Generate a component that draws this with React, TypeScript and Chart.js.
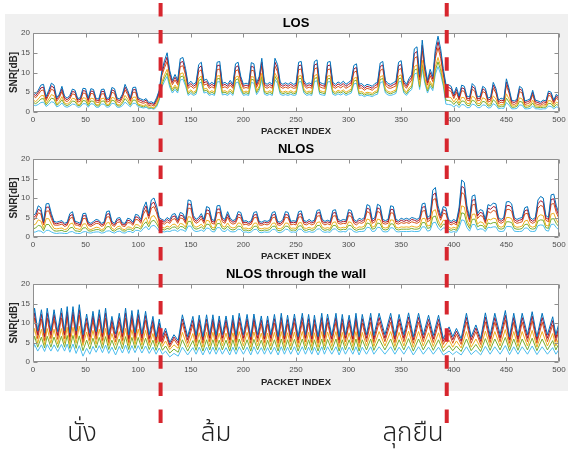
import React, { useEffect, useRef } from "react";
import { Chart, registerables } from "chart.js";
Chart.register(...registerables);

// ---------- axis / labels ----------
const xTickValues = [0, 50, 100, 150, 200, 250, 300, 350, 400, 450, 500];
const yTickValues = [0, 5, 10, 15, 20];
const titles = ["LOS", "NLOS", "NLOS through the wall"];
const xLabel = "PACKET INDEX";
const yLabel = "SNR[dB]";
const phaseLabels = ["นั่ง", "ล้ม", "ลุกยืน"];
const phaseBoundaries = [121, 393];
// series order: top ... bottom (first drawn on top)
const lineColors = ["#0072BD", "#A2142F", "#D95319", "#EDB120", "#77AC30", "#4DBEEE"];

// sample positions (packet index) for LOS / NLOS: every 2.5 packets, 0..500
const SAMPLE_STEP = 2.5;

// ---------- LOS ----------
const losA = [
  5.2,4.6,5.5,6.8,7.0,3.9,5.5,7.3,6.8,3.6, 4.5,6.5,4.0,3.5,4.2,5.8,5.5,3.4,3.6,6.0,
  5.9,3.5,5.9,5.7,3.4,3.3,5.7,5.8,3.4,3.6, 6.2,5.9,3.5,3.3,4.5,7.0,5.5,3.6,6.2,6.3,
  3.6,3.3,3.0,3.4,2.4,2.6,2.2,3.6,5.5,10.5, 13.0,15.0,10.5,8.0,9.5,8.0,13.5,13.8,11.0,7.0,
  7.8,7.0,7.5,12.0,12.6,8.0,8.3,7.0,7.5,7.0, 12.6,12.8,7.2,7.5,7.0,8.0,7.0,12.2,12.6,9.0,
  7.0,7.3,7.0,12.5,12.2,7.3,9.0,13.6,7.5,7.0, 7.5,7.0,13.6,12.0,7.5,7.0,7.4,7.0,7.5,7.0,
  7.2,12.6,12.8,8.0,7.0,7.4,7.0,12.8,13.2,7.5, 7.2,7.0,12.6,12.8,7.5,7.0,7.6,7.2,7.8,7.0,
  7.5,8.0,11.8,12.2,7.0,7.2,6.5,7.0,6.8,6.5, 7.2,7.5,12.4,12.8,8.0,7.2,7.0,7.4,7.8,12.6,
  13.0,8.0,7.0,8.5,9.5,16.0,16.5,9.5,18.2,12.0, 8.0,10.8,9.0,16.0,19.2,16.0,11.0,7.0,6.9,6.5,
  4.5,6.3,4.0,6.8,6.5,4.0,3.8,7.2,6.5,3.8, 4.0,6.5,6.0,3.5,3.8,7.5,6.0,3.0,3.5,3.2,
  8.4,6.0,3.0,2.8,3.2,6.5,6.0,2.8,3.0,3.3, 5.5,3.0,2.8,2.5,3.0,2.8,5.3,5.0,3.0,4.5,
  3.8,
];
const losE = [
  4.7,4.1,5.0,6.1,6.3,3.4,5.0,6.6,6.1,3.2, 4.1,5.9,3.5,3.1,3.8,5.2,5.0,3.0,3.2,5.4,
  5.3,3.1,5.3,5.2,3.0,2.9,5.2,5.2,3.0,3.2, 5.6,5.3,3.1,2.9,4.1,6.3,5.0,3.2,5.6,5.7,
  3.2,2.9,2.6,3.0,2.0,2.2,1.9,3.2,5.1,9.9, 12.1,13.9,9.8,7.5,8.8,7.5,12.5,12.8,10.2,6.5,
  7.2,6.5,7.0,11.1,11.7,7.4,7.7,6.5,7.0,6.5, 11.7,11.9,6.7,7.0,6.5,7.4,6.5,11.3,11.7,8.4,
  6.5,6.8,6.5,11.6,11.3,6.8,8.4,12.6,7.0,6.5, 7.0,6.5,12.6,11.1,7.0,6.5,6.9,6.5,7.0,6.5,
  6.7,11.7,11.9,7.4,6.5,6.9,6.5,11.9,12.2,7.0, 6.7,6.5,11.7,11.9,7.0,6.5,7.1,6.7,7.2,6.5,
  7.0,7.4,10.9,11.3,6.5,6.7,6.0,6.5,6.3,6.0, 6.7,7.0,11.5,11.9,7.4,6.7,6.5,6.9,7.2,11.7,
  12.0,7.4,6.5,7.9,8.8,14.8,15.3,8.8,16.9,11.1, 7.4,10.0,8.4,14.8,17.8,14.8,10.2,6.3,6.2,5.9,
  4.0,5.7,3.5,6.1,5.9,3.5,3.3,6.5,5.9,3.3, 3.5,5.9,5.4,3.0,3.3,6.8,5.4,2.6,3.0,2.8,
  7.6,5.4,2.6,2.4,2.8,5.9,5.4,2.4,2.6,2.9, 5.0,2.6,2.4,2.1,2.6,2.4,4.8,4.5,2.6,4.1,
  3.3,
];
const losB = [
  4.2,3.6,4.4,5.4,5.6,2.9,4.4,5.8,5.4,2.7, 3.6,5.2,3.0,2.6,3.3,4.6,4.4,2.5,2.7,4.8,
  4.7,2.6,4.7,4.6,2.5,2.4,4.6,4.6,2.5,2.7, 5.0,4.7,2.6,2.4,3.6,5.6,4.4,2.7,5.0,5.0,
  2.7,2.4,2.2,2.5,1.6,1.8,1.5,2.7,4.7,9.2, 11.2,12.8,9.0,6.9,8.1,6.9,11.5,11.7,9.4,6.0,
  6.6,6.0,6.4,10.2,10.7,6.8,7.1,6.0,6.4,6.0, 10.7,10.9,6.1,6.4,6.0,6.8,6.0,10.4,10.7,7.7,
  6.0,6.2,6.0,10.6,10.4,6.2,7.7,11.6,6.4,6.0, 6.4,6.0,11.6,10.2,6.4,6.0,6.3,6.0,6.4,6.0,
  6.1,10.7,10.9,6.8,6.0,6.3,6.0,10.9,11.2,6.4, 6.1,6.0,10.7,10.9,6.4,6.0,6.5,6.1,6.6,6.0,
  6.4,6.8,10.0,10.4,6.0,6.1,5.5,6.0,5.8,5.5, 6.1,6.4,10.5,10.9,6.8,6.1,6.0,6.3,6.6,10.7,
  11.0,6.8,6.0,7.2,8.1,13.6,14.0,8.1,15.5,10.2, 6.8,9.2,7.7,13.6,16.3,13.6,9.4,5.6,5.5,5.2,
  3.4,5.0,3.0,5.4,5.2,3.0,2.8,5.8,5.2,2.8, 3.0,5.2,4.8,2.5,2.8,6.0,4.8,2.1,2.5,2.3,
  6.7,4.8,2.1,1.9,2.3,5.2,4.8,1.9,2.1,2.4, 4.4,2.1,1.9,1.7,2.1,1.9,4.2,4.0,2.1,3.6,
  2.8,
];
const losC = [
  3.1,2.6,3.3,4.1,4.2,2.2,3.3,4.4,4.1,2.0, 2.7,3.9,2.3,2.0,2.5,3.5,3.3,1.9,2.0,3.6,
  3.5,2.0,3.5,3.4,1.9,1.8,3.4,3.5,1.9,2.0, 3.7,3.5,1.9,1.8,2.7,4.2,3.3,2.0,3.7,3.8,
  2.0,1.8,1.6,1.9,1.2,1.3,1.0,2.0,3.8,7.6, 9.4,10.8,7.6,5.8,6.8,5.8,9.7,9.9,7.9,5.0,
  5.6,5.0,5.4,8.6,9.1,5.8,6.0,5.0,5.4,5.0, 9.1,9.2,5.2,5.4,5.0,5.8,5.0,8.8,9.1,6.5,
  5.0,5.3,5.0,9.0,8.8,5.3,6.5,9.8,5.4,5.0, 5.4,5.0,9.8,8.6,5.4,5.0,5.3,5.0,5.4,5.0,
  5.2,9.1,9.2,5.8,5.0,5.3,5.0,9.2,9.5,5.4, 5.2,5.0,9.1,9.2,5.4,5.0,5.5,5.2,5.6,5.0,
  5.4,5.8,8.5,8.8,5.0,5.2,4.7,5.0,4.9,4.7, 5.2,5.4,8.9,9.2,5.8,5.2,5.0,5.3,5.6,9.1,
  9.4,5.8,5.0,6.1,6.8,11.5,11.9,6.8,13.1,8.6, 5.8,7.8,6.5,11.5,13.8,11.5,7.9,3.9,3.8,3.6,
  2.5,3.5,2.2,3.7,3.6,2.2,2.1,4.0,3.6,2.1, 2.2,3.6,3.3,1.9,2.1,4.1,3.3,1.6,1.9,1.8,
  4.6,3.3,1.6,1.5,1.8,3.6,3.3,1.5,1.6,1.8, 3.0,1.6,1.5,1.4,1.6,1.5,2.9,2.8,1.6,2.5,
  2.1,
];
const losF = [
  2.5,2.1,2.6,3.3,3.4,1.8,2.6,3.5,3.3,1.7, 2.2,3.1,1.9,1.6,2.0,2.8,2.6,1.6,1.7,2.9,
  2.8,1.6,2.8,2.7,1.6,1.5,2.7,2.8,1.6,1.7, 3.0,2.8,1.6,1.5,2.2,3.4,2.6,1.7,3.0,3.0,
  1.7,1.5,1.3,1.6,1.0,1.1,0.9,1.7,3.4,7.0, 8.6,9.9,7.0,5.3,6.3,5.3,8.9,9.1,7.3,4.6,
  5.2,4.6,5.0,7.9,8.4,5.3,5.5,4.6,5.0,4.6, 8.4,8.5,4.8,5.0,4.6,5.3,4.6,8.1,8.4,6.0,
  4.6,4.9,4.6,8.3,8.1,4.9,6.0,9.0,5.0,4.6, 5.0,4.6,9.0,7.9,5.0,4.6,4.9,4.6,5.0,4.6,
  4.8,8.4,8.5,5.3,4.6,4.9,4.6,8.5,8.7,5.0, 4.8,4.6,8.4,8.5,5.0,4.6,5.1,4.8,5.2,4.6,
  5.0,5.3,7.8,8.1,4.6,4.8,4.3,4.6,4.5,4.3, 4.8,5.0,8.2,8.5,5.3,4.8,4.6,4.9,5.2,8.4,
  8.6,5.3,4.6,5.6,6.3,10.6,10.9,6.3,12.0,7.9, 5.3,7.2,6.0,10.6,12.7,10.6,7.3,3.0,2.9,2.7,
  1.9,2.7,1.7,2.8,2.7,1.7,1.6,3.0,2.7,1.6, 1.7,2.7,2.5,1.5,1.6,3.1,2.5,1.2,1.5,1.4,
  3.5,2.5,1.2,1.2,1.4,2.7,2.5,1.2,1.2,1.4, 2.3,1.2,1.2,1.1,1.2,1.2,2.2,2.1,1.2,1.9,
  1.6,
];
const losD = [
  1.8,1.6,1.9,2.4,2.5,1.4,1.9,2.6,2.4,1.3, 1.6,2.3,1.4,1.2,1.5,2.0,1.9,1.2,1.3,2.1,
  2.1,1.2,2.1,2.0,1.2,1.2,2.0,2.0,1.2,1.3, 2.2,2.1,1.2,1.2,1.6,2.5,1.9,1.3,2.2,2.2,
  1.3,1.2,1.0,1.2,0.8,0.9,0.7,1.3,3.0,6.3, 7.8,9.0,6.3,4.8,5.7,4.8,8.1,8.3,6.6,4.2,
  4.7,4.2,4.5,7.2,7.6,4.8,5.0,4.2,4.5,4.2, 7.6,7.7,4.3,4.5,4.2,4.8,4.2,7.3,7.6,5.4,
  4.2,4.4,4.2,7.5,7.3,4.4,5.4,8.2,4.5,4.2, 4.5,4.2,8.2,7.2,4.5,4.2,4.4,4.2,4.5,4.2,
  4.3,7.6,7.7,4.8,4.2,4.4,4.2,7.7,7.9,4.5, 4.3,4.2,7.6,7.7,4.5,4.2,4.6,4.3,4.7,4.2,
  4.5,4.8,7.1,7.3,4.2,4.3,3.9,4.2,4.1,3.9, 4.3,4.5,7.4,7.7,4.8,4.3,4.2,4.4,4.7,7.6,
  7.8,4.8,4.2,5.1,5.7,9.6,9.9,5.7,10.9,7.2, 4.8,6.5,5.4,9.6,11.5,9.6,6.6,2.0,1.9,1.8,
  1.3,1.8,1.1,1.9,1.8,1.1,1.1,2.0,1.8,1.1, 1.1,1.8,1.7,1.0,1.1,2.1,1.7,0.8,1.0,0.9,
  2.4,1.7,0.8,0.8,0.9,1.8,1.7,0.8,0.8,0.9, 1.5,0.8,0.8,0.7,0.8,0.8,1.5,1.4,0.8,1.3,
  1.1,
];

// ---------- NLOS ----------
const nlosA = [
  5.5,6.0,8.0,7.5,4.0,8.5,8.6,6.0,4.0,3.8, 4.0,4.2,3.5,3.8,6.0,6.5,4.0,3.8,3.5,6.0,
  6.1,3.8,3.5,4.0,4.5,4.3,3.5,3.8,6.5,6.7, 4.0,3.5,4.8,5.0,3.6,3.5,4.8,4.6,3.8,5.8,
  5.6,4.5,7.5,9.0,6.0,9.5,10.0,8.0,5.0,4.5, 4.2,5.0,4.5,5.8,6.0,4.5,6.3,6.0,4.5,9.5,
  9.3,5.5,4.5,5.0,6.0,4.5,7.8,7.5,4.5,4.2, 8.0,8.1,5.0,4.5,6.5,4.8,4.2,4.5,6.5,6.3,
  4.0,4.2,3.8,4.2,6.3,6.5,4.0,3.8,4.2,4.0, 4.3,6.3,6.5,4.0,3.8,4.5,6.5,6.3,4.0,4.2,
  4.0,6.5,6.7,4.2,4.0,4.5,4.0,4.3,6.8,7.0, 4.5,4.0,4.3,4.0,6.8,7.0,4.5,4.2,4.5,4.3,
  7.0,6.8,4.5,4.0,4.8,4.5,5.0,8.3,8.0,4.5, 5.0,8.4,8.0,4.5,4.2,4.5,8.0,7.8,4.5,4.2,
  4.8,4.5,4.8,4.5,5.0,4.8,4.5,5.0,8.5,8.7, 5.0,5.5,12.0,12.7,8.0,5.5,7.8,7.5,4.5,4.0,
  4.5,4.0,7.5,14.6,14.0,8.0,5.0,10.5,10.8,6.0, 7.0,6.8,4.5,8.3,8.0,8.7,8.5,5.0,4.5,5.0,
  9.0,9.1,8.5,5.0,4.5,4.8,5.0,7.5,7.8,5.0, 4.5,5.0,9.5,10.4,10.0,5.5,5.0,10.8,11.0,8.0,
  6.0,
];
const nlosE = [
  4.9,5.4,7.1,6.7,3.6,7.6,7.7,5.4,3.6,3.4, 3.6,3.8,3.1,3.4,5.4,5.8,3.6,3.4,3.1,5.4,
  5.5,3.4,3.1,3.6,4.0,3.9,3.1,3.4,5.8,6.0, 3.6,3.1,4.3,4.5,3.2,3.1,4.3,4.1,3.4,5.2,
  5.0,4.0,6.7,8.0,5.4,8.5,8.9,7.1,4.5,4.0, 3.8,4.5,4.0,5.2,5.4,4.0,5.6,5.4,4.0,8.5,
  8.3,4.9,4.0,4.5,5.4,4.0,7.0,6.7,4.0,3.8, 7.1,7.2,4.5,4.0,5.8,4.3,3.8,4.0,5.8,5.6,
  3.6,3.8,3.4,3.8,5.6,5.8,3.6,3.4,3.8,3.6, 3.9,5.6,5.8,3.6,3.4,4.0,5.8,5.6,3.6,3.8,
  3.6,5.8,6.0,3.8,3.6,4.0,3.6,3.9,6.1,6.3, 4.0,3.6,3.9,3.6,6.1,6.3,4.0,3.8,4.0,3.9,
  6.3,6.1,4.0,3.6,4.3,4.0,4.5,7.4,7.1,4.0, 4.5,7.5,7.1,4.0,3.8,4.0,7.1,7.0,4.0,3.8,
  4.3,4.0,4.3,4.0,4.5,4.3,4.0,4.5,7.6,7.8, 4.5,4.9,10.7,11.3,7.1,4.9,7.0,6.7,4.0,3.6,
  4.0,3.6,6.7,13.0,12.5,7.1,4.5,9.4,9.6,5.4, 6.3,6.1,4.0,7.4,7.1,7.8,7.6,4.5,4.0,4.5,
  8.0,8.1,7.6,4.5,4.0,4.3,4.5,6.7,7.0,4.5, 4.0,4.5,8.5,9.3,8.9,4.9,4.5,9.6,9.8,7.1,
  5.4,
];
const nlosB = [
  4.3,4.7,6.2,5.9,3.1,6.6,6.7,4.7,3.1,3.0, 3.1,3.3,2.7,3.0,4.7,5.1,3.1,3.0,2.7,4.7,
  4.8,3.0,2.7,3.1,3.5,3.4,2.7,3.0,5.1,5.2, 3.1,2.7,3.7,3.9,2.8,2.7,3.7,3.6,3.0,4.5,
  4.4,3.5,5.9,7.0,4.7,7.4,7.8,6.2,3.9,3.5, 3.3,3.9,3.5,4.5,4.7,3.5,4.9,4.7,3.5,7.4,
  7.3,4.3,3.5,3.9,4.7,3.5,6.1,5.9,3.5,3.3, 6.2,6.3,3.9,3.5,5.1,3.7,3.3,3.5,5.1,4.9,
  3.1,3.3,3.0,3.3,4.9,5.1,3.1,3.0,3.3,3.1, 3.4,4.9,5.1,3.1,3.0,3.5,5.1,4.9,3.1,3.3,
  3.1,5.1,5.2,3.3,3.1,3.5,3.1,3.4,5.3,5.5, 3.5,3.1,3.4,3.1,5.3,5.5,3.5,3.3,3.5,3.4,
  5.5,5.3,3.5,3.1,3.7,3.5,3.9,6.5,6.2,3.5, 3.9,6.6,6.2,3.5,3.3,3.5,6.2,6.1,3.5,3.3,
  3.7,3.5,3.7,3.5,3.9,3.7,3.5,3.9,6.6,6.8, 3.9,4.3,9.4,9.9,6.2,4.3,6.1,5.9,3.5,3.1,
  3.5,3.1,5.9,11.4,10.9,6.2,3.9,8.2,8.4,4.7, 5.5,5.3,3.5,6.5,6.2,6.8,6.6,3.9,3.5,3.9,
  7.0,7.1,6.6,3.9,3.5,3.7,3.9,5.9,6.1,3.9, 3.5,3.9,7.4,8.1,7.8,4.3,3.9,8.4,8.6,6.2,
  4.7,
];
const nlosC = [
  3.0,3.3,4.4,4.1,2.2,4.7,4.7,3.3,2.2,2.1, 2.2,2.3,1.9,2.1,3.3,3.6,2.2,2.1,1.9,3.3,
  3.4,2.1,1.9,2.2,2.5,2.4,1.9,2.1,3.6,3.7, 2.2,1.9,2.6,2.8,2.0,1.9,2.6,2.5,2.1,3.2,
  3.1,2.5,4.1,5.0,3.3,5.2,5.5,4.4,2.8,2.5, 2.3,2.8,2.5,3.2,3.3,2.5,3.5,3.3,2.5,5.2,
  5.1,3.0,2.5,2.8,3.3,2.5,4.3,4.1,2.5,2.3, 4.4,4.5,2.8,2.5,3.6,2.6,2.3,2.5,3.6,3.5,
  2.2,2.3,2.1,2.3,3.5,3.6,2.2,2.1,2.3,2.2, 2.4,3.5,3.6,2.2,2.1,2.5,3.6,3.5,2.2,2.3,
  2.2,3.6,3.7,2.3,2.2,2.5,2.2,2.4,3.7,3.9, 2.5,2.2,2.4,2.2,3.7,3.9,2.5,2.3,2.5,2.4,
  3.9,3.7,2.5,2.2,2.6,2.5,2.8,4.6,4.4,2.5, 2.8,4.6,4.4,2.5,2.3,2.5,4.4,4.3,2.5,2.3,
  2.6,2.5,2.6,2.5,2.8,2.6,2.5,2.8,4.7,4.8, 2.8,3.0,6.6,7.0,4.4,3.0,4.3,4.1,2.5,2.2,
  2.5,2.2,4.1,8.0,7.7,4.4,2.8,5.8,5.9,3.3, 3.9,3.7,2.5,4.6,4.4,4.8,4.7,2.8,2.5,2.8,
  5.0,5.0,4.7,2.8,2.5,2.6,2.8,4.1,4.3,2.8, 2.5,2.8,5.2,5.7,5.5,3.0,2.8,5.9,6.1,4.4,
  3.3,
];
const nlosF = [
  2.1,2.3,3.0,2.8,1.6,3.2,3.2,2.3,1.6,1.5, 1.6,1.7,1.4,1.5,2.3,2.5,1.6,1.5,1.4,2.3,
  2.4,1.6,1.5,1.7,1.9,1.9,1.5,1.6,2.6,2.7, 1.7,1.5,2.0,2.2,1.6,1.5,2.0,2.0,1.6,2.5,
  2.4,2.0,3.2,3.9,2.6,4.0,4.3,3.4,2.2,2.0, 1.8,2.2,2.0,2.5,2.6,2.0,2.7,2.6,2.0,4.0,
  4.0,2.4,2.0,2.2,2.6,2.0,3.3,3.2,2.0,1.8, 3.4,3.5,2.2,2.0,2.8,2.0,1.8,2.0,2.8,2.7,
  1.7,1.8,1.6,1.8,2.7,2.8,1.7,1.6,1.8,1.7, 1.9,2.7,2.8,1.7,1.6,2.0,2.8,2.7,1.7,1.8,
  1.7,2.8,2.9,1.8,1.7,2.0,1.7,1.9,2.9,3.0, 2.0,1.7,1.9,1.7,2.9,3.0,2.0,1.8,2.0,1.9,
  3.0,2.9,2.0,1.7,2.0,2.0,2.2,3.6,3.4,2.0, 2.2,3.6,3.4,2.0,1.8,2.0,3.4,3.3,2.0,1.8,
  2.0,2.0,2.0,2.0,2.2,2.0,2.0,2.2,3.7,3.7, 2.2,2.4,5.1,5.4,3.4,2.4,3.3,3.2,2.0,1.7,
  2.0,1.7,3.2,6.2,6.0,3.4,2.2,4.5,4.6,2.6, 3.0,2.9,2.0,3.6,3.4,3.7,3.7,2.2,2.0,2.2,
  3.9,3.9,3.7,2.2,2.0,2.0,2.2,3.2,3.3,2.2, 2.0,2.2,4.1,4.4,4.3,2.4,2.2,4.6,4.7,3.4,
  2.6,
];
const nlosD = [
  1.2,1.3,1.6,1.5,1.0,1.7,1.7,1.3,1.0,0.9, 1.0,1.0,0.9,0.9,1.3,1.4,1.0,0.9,0.9,1.3,
  1.4,1.1,1.0,1.2,1.3,1.3,1.0,1.1,1.5,1.6, 1.2,1.0,1.4,1.5,1.1,1.0,1.4,1.4,1.1,1.7,
  1.7,1.4,2.2,2.7,1.8,2.8,3.0,2.4,1.5,1.4, 1.3,1.5,1.4,1.7,1.8,1.4,1.9,1.8,1.4,2.8,
  2.8,1.7,1.4,1.5,1.8,1.4,2.3,2.2,1.4,1.3, 2.4,2.4,1.5,1.4,2.0,1.4,1.3,1.4,2.0,1.9,
  1.2,1.3,1.1,1.3,1.9,2.0,1.2,1.1,1.3,1.2, 1.3,1.9,2.0,1.2,1.1,1.4,2.0,1.9,1.2,1.3,
  1.2,2.0,2.0,1.3,1.2,1.4,1.2,1.3,2.0,2.1, 1.4,1.2,1.3,1.2,2.0,2.1,1.4,1.3,1.4,1.3,
  2.1,2.0,1.4,1.2,1.4,1.4,1.5,2.5,2.4,1.4, 1.5,2.5,2.4,1.4,1.3,1.4,2.4,2.3,1.4,1.3,
  1.4,1.4,1.4,1.4,1.5,1.4,1.4,1.5,2.6,2.6, 1.5,1.7,3.6,3.8,2.4,1.7,2.3,2.3,1.4,1.2,
  1.4,1.2,2.3,4.4,4.2,2.4,1.5,3.2,3.2,1.8, 2.1,2.0,1.4,2.5,2.4,2.6,2.6,1.5,1.4,1.5,
  2.7,2.7,2.6,1.5,1.4,1.4,1.5,2.3,2.3,1.5, 1.4,1.5,2.9,3.1,3.0,1.7,1.5,3.2,3.3,2.4,
  1.8,
];

// ---------- NLOS through the wall (alternating valley / peak packet positions) ----------
const wallX = [
  0,1.5,4.5,8,11,13.5,17,20,23.5,27,
  30,32.5,35,38,41,44,47.5,51,54,57,
  60,63,66,69,72,75,78.5,82,85,88,
  91,94,97,100,103.5,107,110.5,114,117,120,
  123,126,130,134,138,142,147,152,155,158,
  161.5,165,168,171,174,177,180,183.5,187,190,
  193,196,200,203.5,207,210,213.5,217,220,223,
  226,229.5,233,236,239,242,245,248.5,252,256,
  259,262,265,267.5,271,274.5,277,280,284,288,
  291,294,297,300.5,304,307,310,313,317,321,
  324,329,334.5,340,344,348,352.5,357,361.5,366.5,
  371,376,380.5,385.5,390,395.5,399,402.5,407,412,
  416.5,421,425.5,430,434.5,439,444,449,453,457,
  461,465,470,474.5,479,484,489,494,497,500,
];
const wallA = [
  10.5,13.8,8.0,13.4,7.5,13.8,8.0,13.4,7.8,13.8,
  8.0,14.2,7.5,14.2,8.0,14.7,7.0,12.3,7.5,13.0,
  7.8,13.4,7.5,13.8,7.0,11.7,7.2,12.5,7.5,13.8,
  7.0,13.2,7.5,13.4,7.2,13.0,7.0,11.7,6.5,11.0,
  6.5,8.7,5.0,7.0,5.5,12.1,6.5,11.7,6.8,12.0,
  6.5,12.1,7.0,12.1,6.8,11.8,7.0,11.8,6.5,12.0,
  6.8,12.5,7.0,12.2,6.5,12.3,7.0,11.8,6.8,11.8,
  7.0,12.2,6.5,12.5,6.8,12.0,7.0,12.3,6.5,12.5,
  7.0,12.2,6.8,12.0,6.5,12.5,7.0,12.3,6.8,12.5,
  6.5,12.2,7.0,12.0,6.8,12.5,6.5,12.2,7.0,12.5,
  6.8,12.5,7.0,12.5,6.8,12.2,7.0,12.6,6.5,12.5,
  7.0,12.0,6.8,12.0,6.0,9.0,6.5,8.6,6.0,12.5,
  6.5,9.5,6.0,12.6,6.8,12.5,7.0,13.2,6.5,12.5,
  6.8,12.5,7.0,12.9,6.5,12.5,7.0,11.6,7.0,10.0,
];
const wallE = [
  9.5,12.6,7.0,12.2,6.5,12.6,7.0,12.2,6.8,12.6,
  7.0,12.9,6.5,12.9,7.0,13.4,6.0,11.2,6.5,11.9,
  6.8,12.2,6.5,12.6,6.0,10.7,6.2,11.4,6.5,12.6,
  6.0,12.0,6.5,12.2,6.2,11.9,6.0,10.7,5.7,10.0,
  5.7,7.9,4.4,6.4,4.9,11.0,5.7,10.7,5.9,10.9,
  5.7,11.0,6.1,11.0,5.9,10.8,6.1,10.8,5.7,10.9,
  5.9,11.4,6.1,11.1,5.7,11.2,6.1,10.8,5.9,10.8,
  6.1,11.1,5.7,11.4,5.9,10.9,6.1,11.2,5.7,11.4,
  6.1,11.1,5.9,10.9,5.7,11.4,6.1,11.2,5.9,11.4,
  5.7,11.1,6.1,10.9,5.9,11.4,5.7,11.1,6.1,11.4,
  5.9,11.4,6.1,11.4,5.9,11.1,6.1,11.5,5.7,11.4,
  6.1,10.9,5.9,10.9,5.3,8.2,5.7,7.9,5.3,11.4,
  5.7,8.7,5.3,11.5,5.9,11.4,6.1,12.0,5.7,11.4,
  5.9,11.4,6.1,11.8,5.7,11.4,6.1,10.6,6.1,9.1,
];
const wallB = [
  8.5,11.3,6.0,11.0,5.5,11.3,6.0,11.0,5.8,11.3,
  6.0,11.6,5.5,11.6,6.0,12.0,5.0,10.1,5.5,10.7,
  5.8,11.0,5.5,11.3,5.0,9.6,5.2,10.2,5.5,11.3,
  5.0,10.8,5.5,11.0,5.2,10.7,5.0,9.6,4.8,9.0,
  4.8,7.1,3.8,5.8,4.2,9.9,4.8,9.6,5.0,9.8,
  4.8,9.9,5.2,9.9,5.0,9.7,5.2,9.7,4.8,9.8,
  5.0,10.2,5.2,10.0,4.8,10.1,5.2,9.7,5.0,9.7,
  5.2,10.0,4.8,10.2,5.0,9.8,5.2,10.1,4.8,10.2,
  5.2,10.0,5.0,9.8,4.8,10.2,5.2,10.1,5.0,10.2,
  4.8,10.0,5.2,9.8,5.0,10.2,4.8,10.0,5.2,10.2,
  5.0,10.2,5.2,10.2,5.0,10.0,5.2,10.3,4.8,10.2,
  5.2,9.8,5.0,9.8,4.5,7.4,4.8,7.1,4.5,10.2,
  4.8,7.8,4.5,10.3,5.0,10.2,5.2,10.8,4.8,10.2,
  5.0,10.2,5.2,10.6,4.8,10.2,5.2,9.5,5.2,8.2,
];
const wallC = [
  6.5,8.6,4.8,8.4,4.5,8.6,4.8,8.4,4.6,8.6,
  4.8,8.9,4.5,8.9,4.8,9.2,4.2,7.7,4.5,8.1,
  4.6,8.4,4.5,8.6,4.2,7.3,4.3,7.8,4.5,8.6,
  4.2,8.3,4.5,8.4,4.3,8.1,4.2,7.3,4.0,6.9,
  4.0,5.4,3.2,4.4,3.5,7.6,3.8,7.3,4.0,7.5,
  3.8,7.6,4.1,7.6,4.0,7.4,4.1,7.4,3.8,7.5,
  4.0,7.8,4.1,7.6,3.8,7.7,4.1,7.4,4.0,7.4,
  4.1,7.6,3.8,7.8,4.0,7.5,4.1,7.7,3.8,7.8,
  4.1,7.6,4.0,7.5,3.8,7.8,4.1,7.7,4.0,7.8,
  3.8,7.6,4.1,7.5,4.0,7.8,3.8,7.6,4.1,7.8,
  4.0,7.8,4.1,7.8,4.0,7.6,4.1,7.9,3.8,7.8,
  4.1,7.5,4.0,7.5,3.6,5.6,3.8,5.4,3.6,7.8,
  3.8,5.9,3.6,7.9,4.0,7.8,4.1,8.3,3.8,7.8,
  4.0,7.8,4.1,8.1,3.8,7.8,4.1,7.3,4.1,6.3,
];
const wallF = [
  4.9,6.6,3.8,6.4,3.6,6.6,3.8,6.4,3.7,6.6,
  3.8,6.8,3.5,6.8,3.5,6.7,2.9,5.6,3.3,6.1,
  3.6,6.3,3.5,6.5,3.2,5.6,3.1,5.9,3.4,6.5,
  3.2,6.3,3.5,6.3,3.3,6.1,3.2,5.6,3.0,5.3,
  3.0,4.1,2.3,3.3,2.5,5.7,2.8,5.5,3.0,5.7,
  2.8,5.7,3.1,5.7,3.0,5.6,3.1,5.6,2.8,5.7,
  3.0,5.9,3.1,5.7,2.8,5.8,3.1,5.6,3.0,5.6,
  3.1,5.7,2.8,5.9,3.0,5.7,3.1,5.8,2.8,5.9,
  3.1,5.7,3.0,5.7,2.8,5.9,3.1,5.8,3.0,5.9,
  2.8,5.7,3.1,5.7,3.0,5.9,2.8,5.7,3.1,5.9,
  3.0,5.9,3.1,5.9,3.0,5.7,3.1,6.0,2.8,5.9,
  3.1,5.7,3.0,5.7,2.7,4.2,2.9,4.1,2.7,5.9,
  2.9,4.5,2.7,6.0,3.0,5.9,3.1,6.3,2.9,5.9,
  3.0,5.9,3.1,6.1,2.9,5.9,3.1,5.5,3.1,4.8,
];
const wallD = [
  3.2,4.5,2.8,4.4,2.7,4.5,2.8,4.4,2.7,4.5,
  2.8,4.6,2.5,4.6,2.2,4.2,1.5,3.5,2.0,4.0,
  2.5,4.2,2.4,4.3,2.2,3.8,1.8,4.0,2.3,4.3,
  2.2,4.2,2.4,4.2,2.3,4.1,2.2,3.8,2.0,3.6,
  2.0,2.8,1.3,2.2,1.5,3.8,1.8,3.7,2.0,3.8,
  1.8,3.8,2.0,3.8,2.0,3.7,2.0,3.7,1.8,3.8,
  2.0,3.9,2.0,3.8,1.8,3.9,2.0,3.7,2.0,3.7,
  2.0,3.8,1.8,3.9,2.0,3.8,2.0,3.9,1.8,3.9,
  2.0,3.8,2.0,3.8,1.8,3.9,2.0,3.9,2.0,3.9,
  1.8,3.8,2.0,3.8,2.0,3.9,1.8,3.8,2.0,3.9,
  2.0,3.9,2.0,3.9,2.0,3.8,2.0,4.0,1.8,3.9,
  2.0,3.8,2.0,3.8,1.8,2.8,1.9,2.7,1.8,3.9,
  1.9,3.0,1.8,4.0,2.0,3.9,2.0,4.2,1.9,3.9,
  2.0,3.9,2.0,4.1,1.9,3.9,2.0,3.7,2.0,3.2,
];

const FONT = '"Liberation Sans", Arial, Helvetica, sans-serif';

type Pt = { x: number; y: number };
function gridPoints(ys: number[]): Pt[] {
  return ys.map((y, i) => ({ x: i * SAMPLE_STEP, y }));
}
function pairPoints(xs: number[], ys: number[]): Pt[] {
  const n = Math.min(xs.length, ys.length);
  const out: Pt[] = [];
  for (let i = 0; i < n; i++) out.push({ x: xs[i], y: ys[i] });
  return out;
}

const matlabAxes = {
  id: "matlabAxes",
  beforeDraw(chart: any) {
    const { ctx, chartArea: a } = chart;
    ctx.save();
    ctx.fillStyle = "#ffffff";
    ctx.fillRect(a.left, a.top, a.right - a.left, a.bottom - a.top);
    ctx.restore();
  },
  afterDraw(chart: any, _args: any, opts: any) {
    const { ctx, chartArea: a, scales } = chart;
    ctx.save();
    ctx.strokeStyle = "#8f8f8f";
    ctx.lineWidth = 1;
    const L = Math.round(a.left) + 0.5, R = Math.round(a.right) - 0.5;
    const T = Math.round(a.top) + 0.5, B = Math.round(a.bottom) - 0.5;
    ctx.beginPath();
    ctx.rect(L, T, R - L, B - T);
    const tl = 4;
    for (const v of xTickValues) {
      const px = Math.round(scales.x.getPixelForValue(v)) + 0.5;
      ctx.moveTo(px, B); ctx.lineTo(px, B - tl);
      ctx.moveTo(px, T); ctx.lineTo(px, T + tl);
    }
    for (const v of yTickValues) {
      const py = Math.round(scales.y.getPixelForValue(v)) + 0.5;
      ctx.moveTo(L, py); ctx.lineTo(L + tl, py);
      ctx.moveTo(R, py); ctx.lineTo(R - tl, py);
    }
    ctx.stroke();
    ctx.fillStyle = "#000";
    ctx.font = `bold 13px ${FONT}`;
    ctx.textAlign = "center";
    ctx.textBaseline = "middle";
    ctx.fillText(opts.text, (a.left + a.right) / 2, a.top - 10);
    ctx.restore();
  },
};

type SubProps = {
  top: number;
  height: number;
  padTop: number;
  xAxisH: number;
  title: string;
  series: Pt[][];
};

function SubPlot({ top, height, padTop, xAxisH, title, series }: SubProps) {
  const ref = useRef<HTMLCanvasElement>(null);
  useEffect(() => {
    if (!ref.current) return;
    const chart = new Chart(ref.current, {
      type: "line",
      data: {
        datasets: series.map((pts, i) => ({
          data: pts,
          borderColor: lineColors[i % lineColors.length],
          borderWidth: 1,
          pointRadius: 0,
          tension: 0,
          fill: false,
        })),
      },
      options: {
        animation: false,
        responsive: false,
        devicePixelRatio: 1,
        events: [],
        layout: { padding: { top: padTop, right: 9, left: 0, bottom: 0 } },
        plugins: {
          legend: { display: false },
          tooltip: { enabled: false },
          matlabAxes: { text: title },
        } as any,
        scales: {
          x: {
            type: "linear",
            min: 0,
            max: 500,
            grid: { display: false, drawTicks: false },
            border: { display: false },
            ticks: {
              stepSize: 50,
              autoSkip: false,
              maxRotation: 0,
              padding: 3,
              color: "#4d4d4d",
              font: { family: FONT, size: 8 },
            },
            title: {
              display: true,
              text: xLabel,
              color: "#262626",
              font: { family: FONT, size: 9.5, weight: "bold" },
              padding: { top: 0, bottom: 2 },
            },
            afterFit(scale: any) {
              scale.height = xAxisH;
              scale.paddingLeft = 0;
              scale.paddingRight = 0;
            },
          },
          y: {
            min: 0,
            max: 20,
            grid: { display: false, drawTicks: false },
            border: { display: false },
            ticks: {
              stepSize: 5,
              padding: 3,
              color: "#4d4d4d",
              font: { family: FONT, size: 8 },
            },
            title: {
              display: true,
              text: yLabel,
              color: "#262626",
              font: { family: FONT, size: 10, weight: "bold" },
              padding: { top: 8.5, bottom: 0 },
            },
            afterFit(scale: any) {
              scale.width = 33;
              scale.paddingTop = 0;
              scale.paddingBottom = 0;
            },
          },
        },
      },
      plugins: [matlabAxes],
    } as any);
    return () => chart.destroy();
  }, []);
  return (
    <canvas
      ref={ref}
      width={568}
      height={height}
      style={{ position: "absolute", left: 0, top, width: 568, height }}
    />
  );
}

export default function App() {
  const losSeries = [losA, losE, losB, losC, losF, losD].map(gridPoints);
  const nlosSeries = [nlosA, nlosE, nlosB, nlosC, nlosF, nlosD].map(gridPoints);
  const wallSeries = [wallA, wallE, wallB, wallC, wallF, wallD].map((ys) => pairPoints(wallX, ys));
  // packet index -> page x for the phase markers (axes span 33..559 px for 0..500)
  const markerX = phaseBoundaries.map((p) => 33.3 + (p / 500) * 526);
  const labelX = [82, 216, 413];
  return (
    <div
      style={{
        position: "absolute",
        left: 0,
        top: 0,
        width: 568,
        height: 451,
        background: "#ffffff",
        overflow: "hidden",
      }}
    >
      <div
        style={{
          position: "absolute",
          left: 5,
          top: 14,
          width: 563,
          height: 377,
          background: "#f0f0f0",
        }}
      />
      <SubPlot top={14} height={125} padTop={19} xAxisH={27} title={titles[0]} series={losSeries} />
      <SubPlot top={139} height={125} padTop={20} xAxisH={27} title={titles[1]} series={nlosSeries} />
      <SubPlot top={264} height={126} padTop={20} xAxisH={28} title={titles[2]} series={wallSeries} />
      <svg
        width={568}
        height={451}
        style={{ position: "absolute", left: 0, top: 0, pointerEvents: "none" }}
      >
        {markerX.map((x, i) => (
          <line
            key={i}
            x1={x}
            x2={x}
            y1={3}
            y2={423}
            stroke="#d7262e"
            strokeWidth={4}
            strokeDasharray="13.5 13.6"
          />
        ))}
      </svg>
      {phaseLabels.map((t, i) => (
        <div
          key={i}
          style={{
            position: "absolute",
            left: labelX[i] - 60,
            width: 120,
            top: 408,
            height: 50,
            lineHeight: "50px",
            textAlign: "center",
            fontFamily: '"Noto Sans Thai", "Noto Sans", "DejaVu Sans", sans-serif',
            fontSize: 26,
            fontWeight: 300,
            color: "#222",
          }}
        >
          {t}
        </div>
      ))}
    </div>
  );
}
